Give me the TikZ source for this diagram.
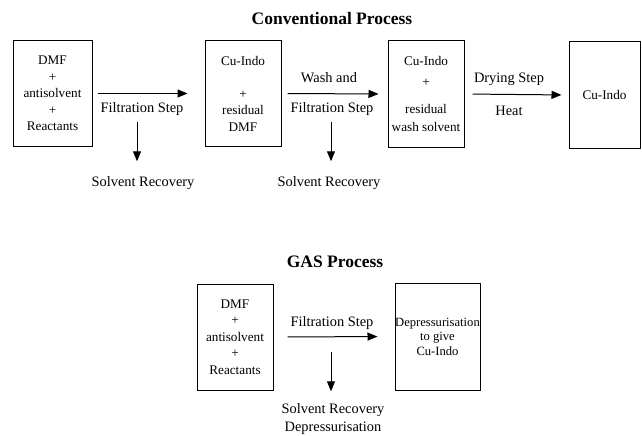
\documentclass[tikz,border=0pt]{standalone}
\usepackage{fontspec}
\setmainfont{Liberation Serif}
\usetikzlibrary{arrows.meta}
\usetikzlibrary{positioning}

\tikzset{
  stage/.style={draw, line width=1pt, align=center, inner sep=0pt,
    font=\fontsize{13.2}{16.5}\selectfont},
  steplabel/.style={inner sep=0pt, align=center,
    font=\fontsize{14.4}{18}\selectfont},
  heading/.style={inner sep=0pt, font=\fontsize{17.5}{20}\selectfont\bfseries},
  flow/.style={line width=1pt, -{Triangle[length=10pt,width=8pt]}}
}

\begin{document}
\begin{tikzpicture}[x=1pt, y=-1pt]
  \useasboundingbox (0,0) rectangle (642,436);

  % conventional route
  \node[heading] (convtitle) at (332,19) {Conventional Process};

  \node[stage, minimum width=79pt, minimum height=105pt] (feed)    at (52.5,93.5) {DMF\\+\\antisolvent\\+\\Reactants};
  \node[stage, minimum width=76pt, minimum height=105pt] (wetcake) at (243,93.5)  {Cu-Indo\\[16.5pt]+\\residual\\DMF};
  \node[stage, minimum width=76pt, minimum height=106pt] (washed)  at (426,94)    {Cu-Indo\\[4.5pt]+\\[10.5pt]residual\\[1.5pt]wash solvent};
  \node[stage, minimum width=71pt, minimum height=106pt] (dryprod) at (604.5,95)  {Cu-Indo};

  \draw[flow, shorten <=5pt, shorten >=17pt] (feed.east) -- (wetcake.west);
  \draw[flow, shorten <=6pt, shorten >=9pt]  (wetcake.east) -- (washed.west);
  \draw[flow, shorten <=8pt, shorten >=7pt]  (washed.east) -- (dryprod.west);

  \node[steplabel] (filt1) at (142,109) {Filtration Step};
  \node[steplabel] (wash2) at (329,78)  {Wash and};
  \node[steplabel] (filt2) at (332,109) {Filtration Step};
  \node[steplabel] (dry3)  at (509,79)  {Drying Step};
  \node[steplabel] (heat3) at (509,111) {Heat};

  \node[steplabel] (rec1) at (143,183) {Solvent Recovery};
  \node[steplabel] (rec2) at (329,183) {Solvent Recovery};

  \draw[flow, shorten <=6pt, shorten >=15pt] ([xshift=-5pt]filt1.south) -- ([xshift=-5pt]filt1.south |- rec1.north);
  \draw[flow, shorten <=6pt, shorten >=15pt] ([xshift=-1pt]filt2.south) -- ([xshift=-1pt]filt2.south |- rec2.north);

  % GAS route
  \node[heading] (gastitle) at (335,262) {GAS Process};

  \node[stage, minimum width=76pt, minimum height=106pt] (gasfeed) at (235,337) {DMF\\+\\antisolvent\\+\\Reactants};
  \node[stage, minimum width=85pt, minimum height=107pt, font=\fontsize{12.6}{14.5}\selectfont] (gasprod) at (437.5,336.5) {Depressurisation\\to give\\Cu-Indo};

  \draw[flow, shorten <=14pt, shorten >=17pt] (gasfeed.east) -- (gasprod.west);

  \node[steplabel] (filt4) at (332,323) {Filtration Step};
  \node[steplabel] (rec4)  at (333,419) {Solvent Recovery\\Depressurisation};

  \draw[flow, shorten <=22pt, shorten >=12pt] ([xshift=-1pt]filt4.south) -- ([xshift=-1pt]filt4.south |- rec4.north);
\end{tikzpicture}
\end{document}
